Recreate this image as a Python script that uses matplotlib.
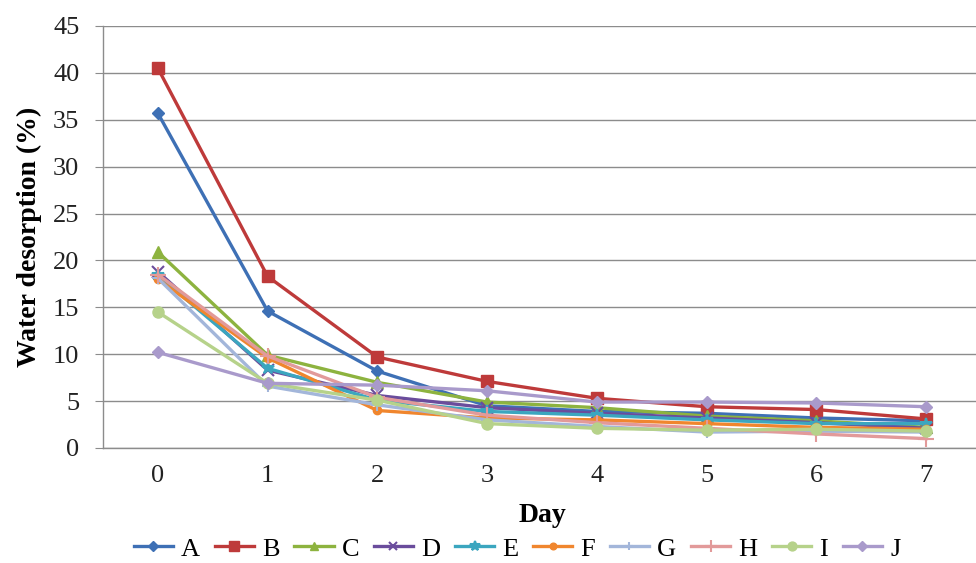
import matplotlib
matplotlib.use("Agg")
import matplotlib.pyplot as plt

days = [0, 1, 2, 3, 4, 5, 6, 7]
series_names = ["A", "B", "C", "D", "E", "F", "G", "H", "I", "J"]

A = [35.7, 14.6, 8.2, 4.5, 3.9, 3.7, 3.2, 2.9]
B = [40.5, 18.3, 9.7, 7.1, 5.3, 4.4, 4.1, 3.1]
C = [20.9, 9.9, 7.0, 4.9, 4.3, 3.4, 2.9, 2.2]
D = [18.8, 8.3, 5.6, 4.3, 3.7, 3.2, 2.7, 2.1]
E = [18.4, 8.5, 5.1, 3.9, 3.5, 3.0, 2.6, 2.6]
F = [18.0, 9.6, 4.0, 3.2, 3.0, 2.6, 2.2, 2.0]
G = [18.1, 6.6, 4.6, 3.0, 2.3, 1.7, 1.8, 1.7]
H = [18.5, 9.8, 5.4, 3.5, 2.7, 2.1, 1.5, 1.0]
I = [14.5, 6.9, 5.1, 2.6, 2.1, 1.9, 2.0, 1.8]
J = [10.2, 6.9, 6.7, 6.1, 4.9, 4.9, 4.8, 4.4]

data = [A, B, C, D, E, F, G, H, I, J]
colors = ["#3E70B5", "#BE3A3A", "#8DB33F", "#6A4C9C", "#3BA6BF",
          "#F0862E", "#A3B6DA", "#E29A9A", "#B6D28A", "#A99ACB"]
markers = ["D", "s", "^", "x", "*", "o", "+", "+", "o", "D"]
msizes = [6, 9, 8, 8, 9, 6, 8, 11, 8, 6]

plt.rcParams["font.family"] = ["Liberation Serif", "DejaVu Serif"]

fig = plt.figure(figsize=(9.76, 5.63), dpi=100)
ax = fig.add_axes([103 / 976, 1 - 448 / 563, (981 - 103) / 976, (448 - 26) / 563])

for name, vals, c, m, ms in zip(series_names, data, colors, markers, msizes):
    if m in ("x", "+", "*"):
        ax.plot(days, vals, color=c, lw=2.4, marker=m, ms=ms, mew=1.5,
                label=name, clip_on=False)
    else:
        ax.plot(days, vals, color=c, lw=2.4, marker=m, ms=ms,
                label=name, clip_on=False)

ax.set_xlim(-0.5, 7.5)
ax.set_ylim(0, 45)
ax.set_yticks(range(0, 46, 5))
ax.set_xticks(days)
ax.grid(axis="y", color="#8C8C8C", lw=1.0)
ax.set_axisbelow(True)
for s in ("top", "right"):
    ax.spines[s].set_visible(False)
for s in ("left", "bottom"):
    ax.spines[s].set_color("#8C8C8C")
    ax.spines[s].set_linewidth(1.0)
ax.tick_params(axis="y", length=6, color="#8C8C8C", labelsize=19, pad=11,
               labelcolor="#222222")
ax.tick_params(axis="x", length=0, labelsize=19, pad=12, labelcolor="#222222")

ax.set_ylabel("Water desorption (%)", fontsize=20, fontweight="bold", labelpad=8)
ax.set_xlabel("Day", fontsize=20, fontweight="bold", labelpad=12)

ax.legend(loc="center", bbox_to_anchor=(0.4715, -0.239),
          ncol=10, frameon=False, fontsize=19, handlelength=1.5,
          columnspacing=0.55, handletextpad=0.3, markerscale=0.8,
          borderaxespad=0, borderpad=0)

fig.savefig("out.png", dpi=100)
